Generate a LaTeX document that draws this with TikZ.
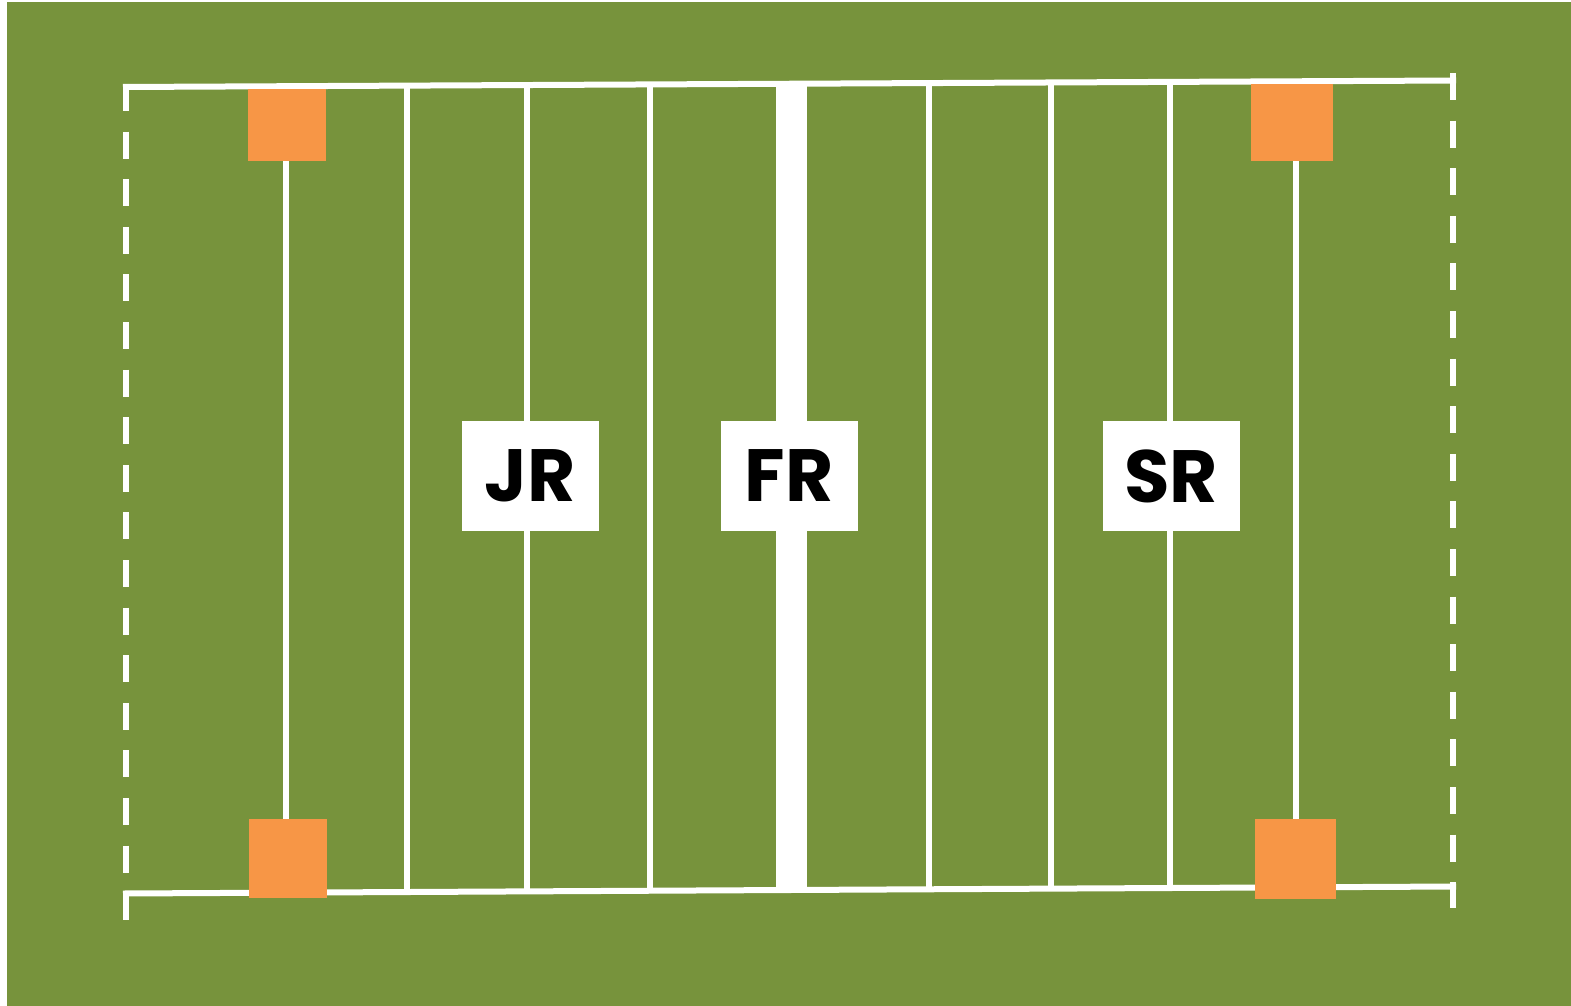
\documentclass[tikz,border=0pt]{standalone}
\usepackage{fontspec}
\newfontfamily\lblfont{Poppins}
\definecolor{turf}{HTML}{77933C}
\definecolor{cone}{HTML}{F79646}
\begin{document}
\begin{tikzpicture}[x=1pt,y=-1pt,
  fieldline/.style={draw=white,line width=5.5pt},
  boundline/.style={draw=white,line width=6pt,dash pattern=on 27pt off 20.6pt},
  conebox/.style={fill=cone,draw=none},
  labelbox/.style={fill=white,draw=none,minimum width=137pt,minimum height=110pt,inner sep=0pt,font=\lblfont\bfseries\fontsize{74}{74}\selectfont,text=black}]
\useasboundingbox (0,0) rectangle (1571,1006);
\fill[white] (0,0) rectangle (1571,1006);
\fill[turf] (7,2) rectangle (1571,1006);
% corners of the field
\coordinate (tl) at (123,87);
\coordinate (tr) at (1456,80.5);
\coordinate (bl) at (123,893.5);
\coordinate (br) at (1456,886.5);
% boundary lines
\draw[fieldline,line width=6pt] (tl) -- (tr);
\draw[fieldline,line width=6pt] (bl) -- (br);
\draw[boundline] (126,84) -- (126,921);
\draw[boundline] (1453,73) -- (1453,908);
% yard lines
\foreach \xx/\nm in {286/pl,407/a,527/b,650/c,929/d,1051/e,1170/f,1296/pr}{
  \pgfmathsetmacro{\yt}{87-6.5*(\xx-123)/1333}
  \pgfmathsetmacro{\yb}{893.5-7*(\xx-123)/1333}
  \coordinate (\nm t) at (\xx,\yt);
  \coordinate (\nm b) at (\xx,\yb);
  \draw[fieldline] (\nm t) -- (\nm b);
}
% midfield line
\coordinate (mt) at (791,84);
\coordinate (mb) at (791,890);
\draw[fieldline,line width=31pt] (mt) -- (mb);
% cones
\fill[conebox] (248,89) rectangle (326,161);
\fill[conebox] (249,819) rectangle (327,898);
\fill[conebox] (1251,84) rectangle (1333,161);
\fill[conebox] (1255,819) rectangle (1336,899);
% labels
\node[labelbox] (jr) at (530,476) {JR};
\node[labelbox] (fr) at (789,476) {FR};
\node[labelbox] (sr) at (1171,476) {SR};
\end{tikzpicture}
\end{document}
